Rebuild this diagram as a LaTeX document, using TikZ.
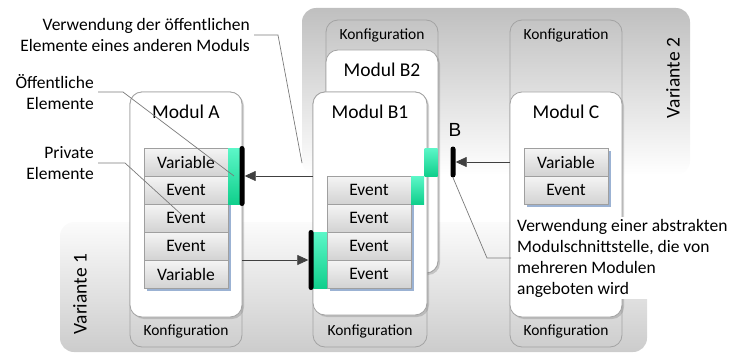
\documentclass[tikz,border=0pt]{standalone}
\usepackage{fontspec}
\setmainfont{Carlito}
\newfontfamily\arialfont{Liberation Sans}
\usetikzlibrary{arrows.meta, shadows, positioning}

\definecolor{pubtop}{HTML}{5CF7C8}
\definecolor{pubbot}{HTML}{10CF8C}
\definecolor{elemshadow}{HTML}{9BB2D3}
\definecolor{calloutline}{HTML}{7A7A7A}
\definecolor{boxline}{HTML}{A3A3A3}

\begin{document}
\begin{tikzpicture}[x=1pt, y=-1pt, >={Triangle[length=11pt,width=10pt]}, node distance=28pt,
	variant/.style={rounded corners=14pt, inner sep=0pt},
	varianttxt/.style={rotate=90, font=\fontsize{19.5}{22}\selectfont},
	konf/.style={draw=boxline, line width=.8pt, rounded corners=12pt, inner sep=0pt},
	modul/.style={draw=boxline, line width=.8pt, fill=white, rounded corners=12pt, inner sep=0pt, drop shadow={shadow xshift=2pt, shadow yshift=-2pt, opacity=.35}},
	title/.style={font=\fontsize{19.5}{22}\selectfont},
	konftxt/.style={font=\fontsize{15.5}{18}\selectfont},
	elem/.style={draw=gray!75, top color=gray!8, bottom color=gray!35, minimum width=84pt, minimum height=28pt, inner sep=0pt, font=\fontsize{17.5}{20}\selectfont, general shadow={shadow xshift=3pt, shadow yshift=-3pt, fill=elemshadow}},
	pub/.style={top color=pubtop, bottom color=pubbot, minimum width=13pt, inner sep=0pt},
	iface/.style={fill=black, rounded corners=2.5pt, minimum width=5pt, inner sep=0pt},
	usearrow/.style={draw=black!75, line width=.7pt, ->},
	note/.style={font=\fontsize{17.5}{21}\selectfont, inner sep=4pt},
	pointer/.style={draw=calloutline, line width=.7pt}]

	\useasboundingbox (0,0) rectangle (734,353);

	\node[variant, top color=gray!50, bottom color=white, minimum width=388pt, minimum height=167pt] (var2) at (496,91.5) {};
	\node[variant, top color=gray!3, bottom color=gray!40, minimum width=587pt, minimum height=130pt] (var1) at (353.5,287) {};
	\node[varianttxt] (var2txt) at (673,78) {Variante 2};
	\node[varianttxt] (var1txt) at (80,294) {Variante 1};

	\node[konf, minimum width=112pt, minimum height=255pt] (konfA) at (186,219.5) {};
	\node[modul, minimum width=112pt, minimum height=225pt] (modA) at (186,204.5) {};
	\node[konf, minimum width=112pt, minimum height=253pt] (konfB2) at (382,146.5) {};
	\node[modul, minimum width=112pt, minimum height=223pt] (modB2) at (382,161.5) {};
	\node[konf, minimum width=114pt, minimum height=255pt] (konfB1) at (370,219.5) {};
	\node[modul, minimum width=114pt, minimum height=223pt] (modB1) at (370,203.5) {};
	\node[konf, minimum width=112pt, minimum height=327pt] (konfC) at (566,183.5) {};
	\node[modul, minimum width=112pt, minimum height=225pt] (modC) at (566,204.5) {};

	\node[title] (modAtxt) at ([yshift=-20pt]modA.north) {Modul A};
	\node[title] (modB2txt) at ([yshift=-20pt]modB2.north) {Modul B2};
	\node[title] (modB1txt) at ([yshift=-20pt]modB1.north) {Modul B1};
	\node[title] (modCtxt) at ([yshift=-20pt]modC.north) {Modul C};
	\node[konftxt] (konfAtxt) at ([yshift=16pt]konfA.south) {Konfiguration};
	\node[konftxt] (konfB1txt) at ([yshift=16pt]konfB1.south) {Konfiguration};
	\node[konftxt] (konfCtxt) at ([yshift=16pt]konfC.south) {Konfiguration};
	\node[konftxt] (konfB2top) at ([yshift=-16pt]konfB2.north) {Konfiguration};
	\node[konftxt] (konfCtop) at ([yshift=-16pt]konfC.north) {Konfiguration};

	\node[elem] (aV1) at (186,162) {Variable};
	\node[elem, below of=aV1] (aE1) {Event};
	\node[elem, below of=aE1] (aE2) {Event};
	\node[elem, below of=aE2] (aE3) {Event};
	\node[elem, below of=aE3] (aV2) {Variable};

	\node[elem] (b1E1) at (369,190) {Event};
	\node[elem, below of=b1E1] (b1E2) {Event};
	\node[elem, below of=b1E2] (b1E3) {Event};
	\node[elem, below of=b1E3] (b1E4) {Event};

	\node[elem] (cV1) at (566,162) {Variable};
	\node[elem, below of=cV1] (cE1) {Event};

	\node[pub, minimum width=12pt, minimum height=56pt] (pubA) at (234,176) {};
	\node[pub, minimum height=28pt] (pubB1r) at (417.5,190) {};
	\node[pub, minimum height=28pt] (pubB2) at (431,162) {};
	\node[pub, minimum width=14pt, minimum height=56pt] (pubB1l) at (320,260) {};

	\node[iface, minimum height=60pt] (ifA) at (242,176) {};
	\node[iface, minimum height=60pt] (ifB1) at (311,260) {};
	\node[iface, minimum height=31pt] (ifB) at (453,162) {};
	\node[font=\arialfont\fontsize{19}{22}\selectfont] (ifBtxt) at (455,130) {B};

	\draw[usearrow] (modB1.west |- ifA) -- (ifA.east);
	\draw[usearrow] (modA.east |- ifB1) -- (ifB1.west);
	\draw[usearrow] (modC.west |- ifB) -- (ifB.east);

	\node[note, align=right, anchor=east] (useTxt) at (254,35) {Verwendung der öffentlichen\\Elemente eines anderen Moduls};
	\node[note, align=right, anchor=east] (pubTxt) at (98,92) {Öffentliche\\Elemente};
	\node[note, align=right, anchor=east] (privTxt) at (98,163) {Private\\Elemente};
	\node[note, align=left, anchor=west, fill=white, inner xsep=6pt, inner ysep=2pt] (absTxt) at (511,258) {Verwendung einer abstrakten\\Modulschnittstelle, die von\\mehreren Modulen\\angeboten wird};

	\coordinate (useEnd) at (302,163);
	\coordinate (privEnd) at (182,215);
	\coordinate (absBend) at (487,258);
	\draw[pointer] (useTxt.east) -- ++(24,0) -- (useEnd);
	\draw[pointer] (pubTxt.east) -- ++(25,0) -- (pubA.center);
	\draw[pointer] (privTxt.east) -- ++(27,0) -- (privEnd);
	\draw[pointer] (ifB.south) -- (absBend) -- (absTxt.west);
\end{tikzpicture}
\end{document}
